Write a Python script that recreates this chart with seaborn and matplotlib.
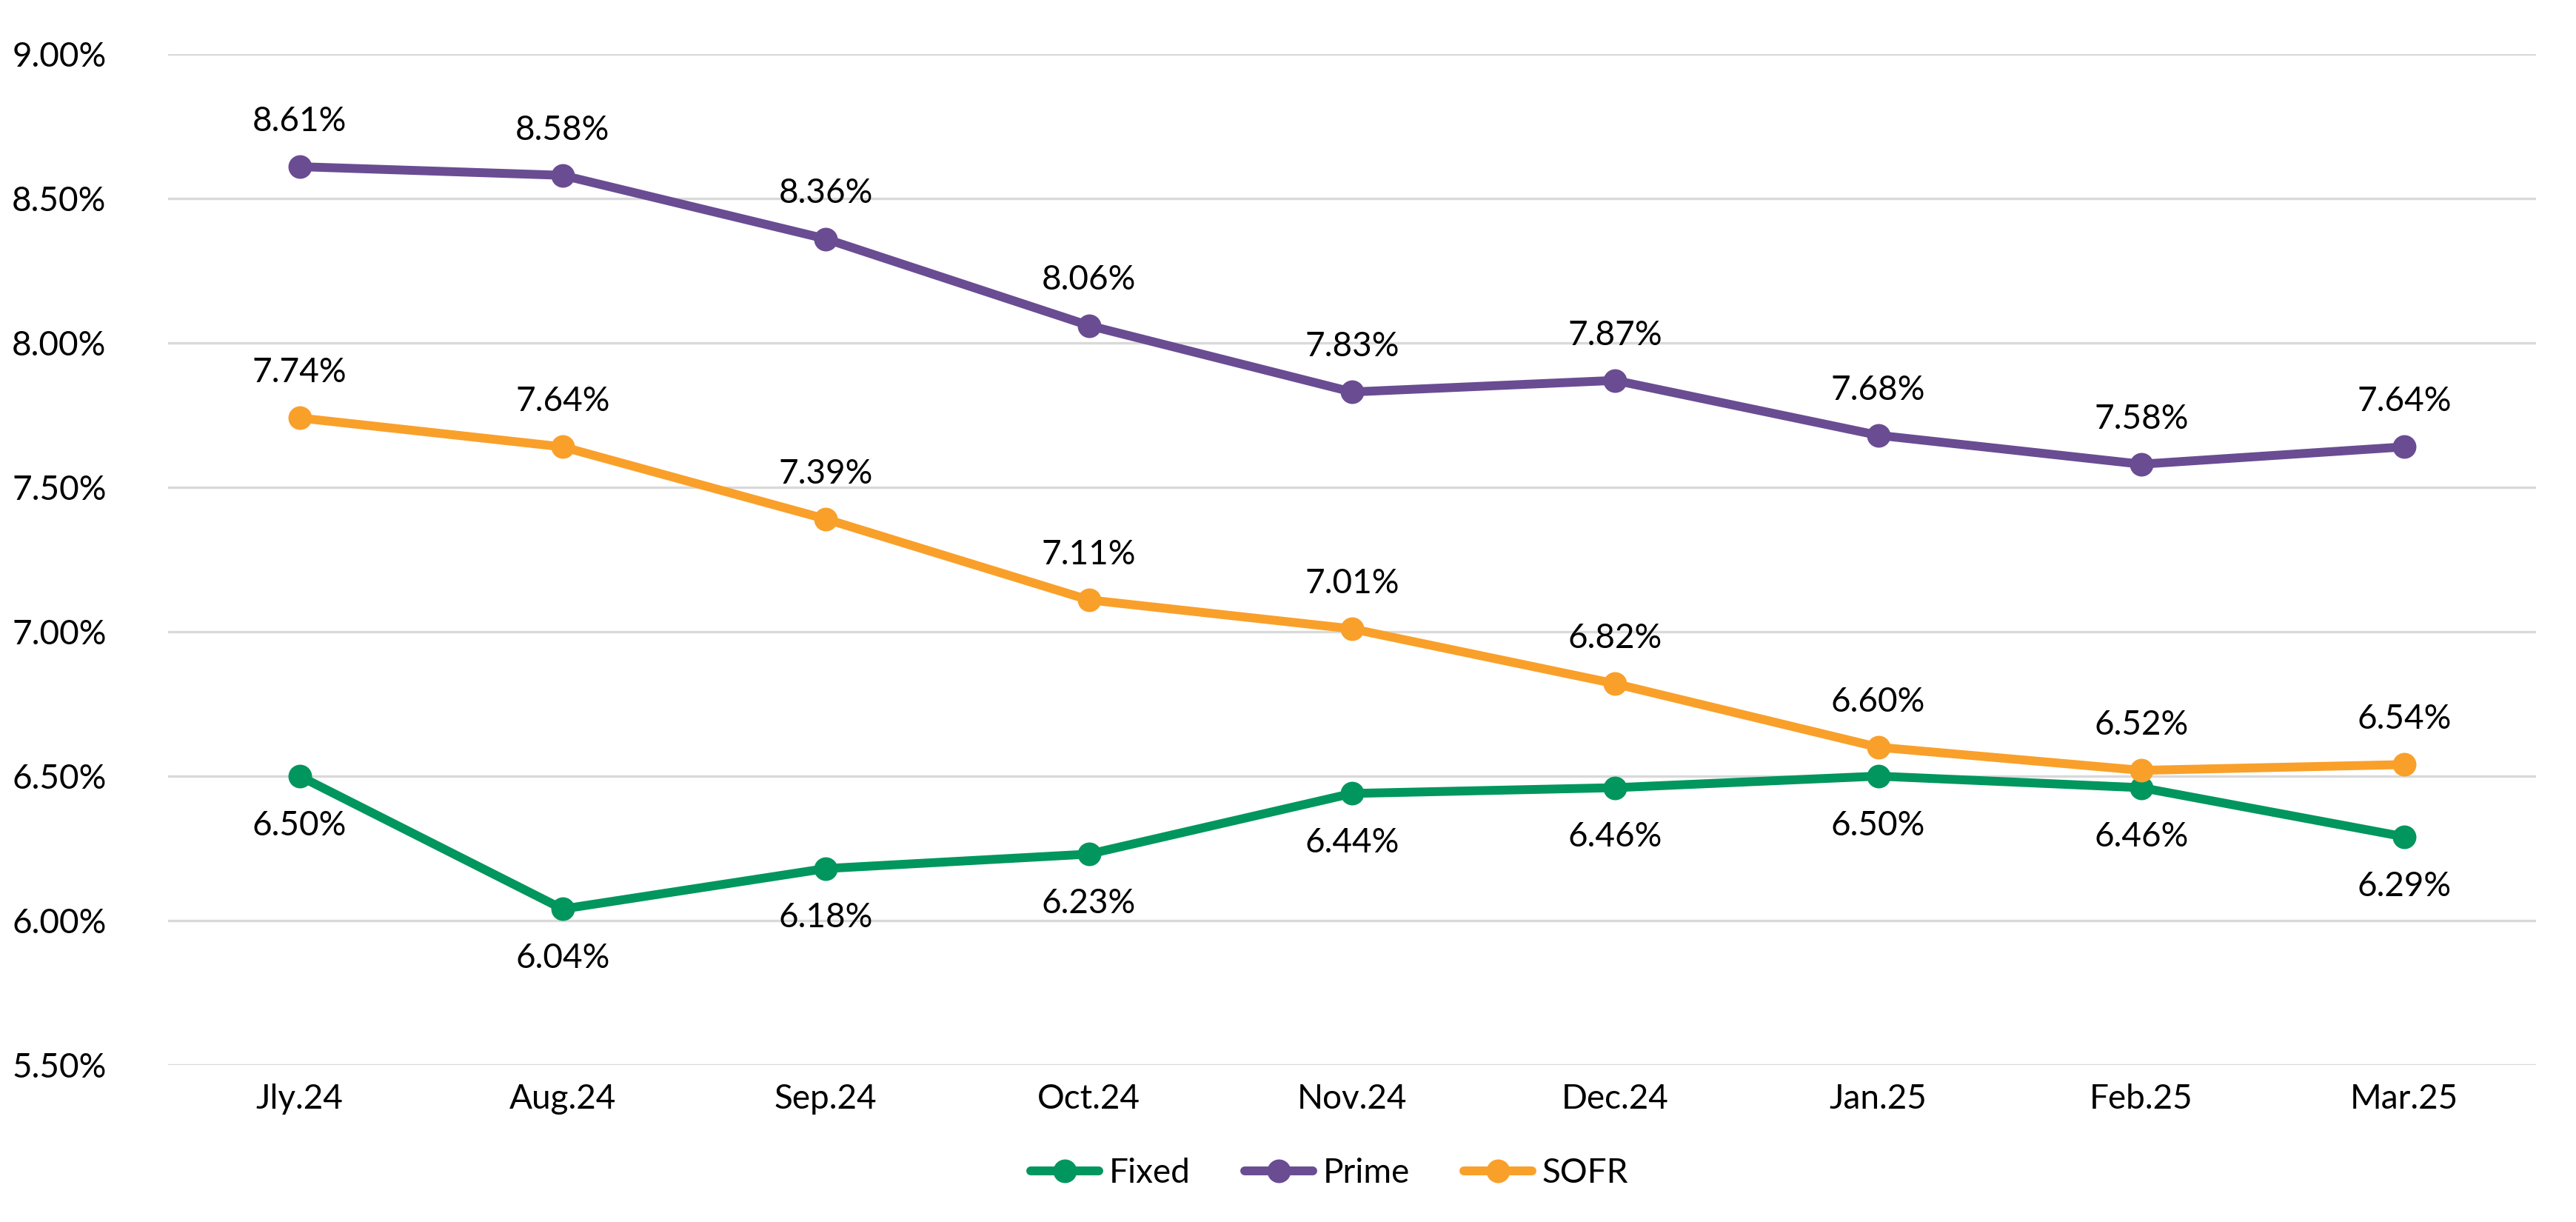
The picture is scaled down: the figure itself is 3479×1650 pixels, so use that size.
import matplotlib
matplotlib.use("Agg")
import matplotlib.pyplot as plt
import seaborn as sns
import pandas as pd
from matplotlib.ticker import FuncFormatter, MultipleLocator

months = ["Jly.24", "Aug.24", "Sep.24", "Oct.24", "Nov.24", "Dec.24", "Jan.25", "Feb.25", "Mar.25"]
fixed = [6.50, 6.04, 6.18, 6.23, 6.44, 6.46, 6.50, 6.46, 6.29]
prime = [8.61, 8.58, 8.36, 8.06, 7.83, 7.87, 7.68, 7.58, 7.64]
sofr = [7.74, 7.64, 7.39, 7.11, 7.01, 6.82, 6.60, 6.52, 6.54]
series_names = ["Fixed", "Prime", "SOFR"]
colors = {"Fixed": "#00965E", "Prime": "#6A4C93", "SOFR": "#F9A02A"}

df = pd.concat([
    pd.DataFrame({"month": months, "rate": fixed, "series": "Fixed"}),
    pd.DataFrame({"month": months, "rate": prime, "series": "Prime"}),
    pd.DataFrame({"month": months, "rate": sofr, "series": "SOFR"}),
], ignore_index=True)

sns.set_theme(style="white")
plt.rcParams["font.family"] = ["Lato", "DejaVu Sans"]
plt.rcParams["font.weight"] = "normal"
plt.rcParams["text.color"] = "black"

fig = plt.figure(figsize=(17.4, 8.25), dpi=200)
ax = fig.add_axes([0.0652, 0.1285, 0.919, 0.8273])

sns.lineplot(data=df, x="month", y="rate", hue="series", hue_order=series_names,
             palette=colors, marker="o", markersize=11.5, markeredgewidth=0,
             linewidth=4.3, sort=False, ax=ax, legend=True, zorder=3)

ax.set_xlim(-0.5, 8.5)
ax.set_ylim(5.5, 9.0)
ax.yaxis.set_major_locator(MultipleLocator(0.5))
ax.yaxis.set_major_formatter(FuncFormatter(lambda v, p: f"{v:.2f}%"))
ax.grid(axis="y", color="#D9D9D9", linewidth=1.2, zorder=0)
ax.grid(axis="x", visible=False)
for s in ax.spines.values():
    s.set_visible(False)
ax.tick_params(axis="both", length=0, labelsize=16.5, colors="black")
ax.tick_params(axis="y", pad=30)
ax.tick_params(axis="x", pad=9)
ax.set_xlabel("")
ax.set_ylabel("")

for name, vals in zip(series_names, [fixed, prime, sofr]):
    off = -24 if name == "Fixed" else 22
    for i, v in enumerate(vals):
        ax.annotate(f"{v:.2f}%", (i, v), xytext=(0, off), textcoords="offset points",
                    ha="center", va="center", fontsize=16.5, color="black", zorder=4)

handles, labels = ax.get_legend_handles_labels()
ax.get_legend().remove()
leg = fig.legend(handles, labels, loc="center", bbox_to_anchor=(0.516, 0.04), ncol=3,
                 frameon=False, fontsize=16.5, handlelength=2.0, columnspacing=1.6,
                 handletextpad=0.3)
for t in leg.get_texts():
    t.set_color("black")

fig.savefig("out.png", dpi=200, facecolor="white")
